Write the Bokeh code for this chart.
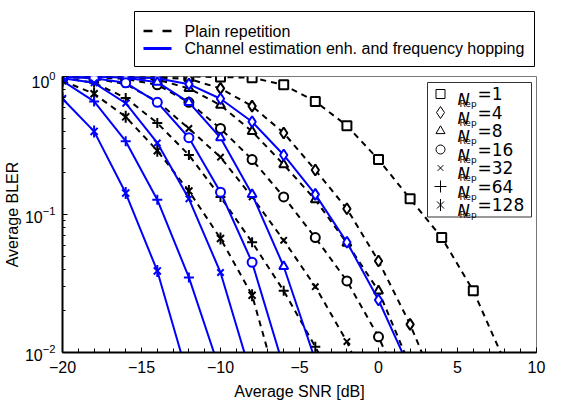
from bokeh.plotting import figure
from bokeh.layouts import column
from bokeh.models import (Range1d, FixedTicker, LinearScale, ColumnDataSource, LogTickFormatter)
from bokeh.core.properties import value
from bokeh.embed import file_html
from bokeh.resources import INLINE
import math

# ---------------- data ----------------
snr = [-20, -18, -16, -14, -12, -10, -8, -6, -4, -2, 0, 2, 4, 6, 8]

# Plain repetition (black dashed)
plain_n1 = [1.0, 1.0, 1.0, 1.0, 1.0, 0.99, 0.98, 0.87, 0.66, 0.44, 0.25, 0.13, 0.068, 0.028, 0.0085]
plain_n4 = [1.0, 1.0, 0.99, 0.98, 0.96, 0.82, 0.61, 0.39, 0.21, 0.11, 0.046, 0.016, 0.0045]
plain_n8 = [1.0, 1.0, 0.99, 0.95, 0.82, 0.62, 0.40, 0.23, 0.128, 0.062, 0.028, 0.008]
plain_n16 = [1.0, 0.99, 0.96, 0.87, 0.65, 0.42, 0.25, 0.134, 0.068, 0.033, 0.013, 0.004]
plain_n32 = [0.99, 0.97, 0.88, 0.66, 0.42, 0.26, 0.134, 0.065, 0.030, 0.012, 0.0035]
plain_n64 = [0.98, 0.90, 0.70, 0.46, 0.27, 0.134, 0.063, 0.028, 0.011, 0.004]
plain_n128 = [0.93, 0.75, 0.51, 0.29, 0.148, 0.067, 0.026, 0.004]

# Channel estimation enh. and frequency hopping (blue solid)
enh_n4 = [1.0, 1.0, 0.99, 0.97, 0.88, 0.69, 0.47, 0.27, 0.14, 0.063, 0.024, 0.0075]
enh_n8 = [1.0, 1.0, 0.98, 0.91, 0.65, 0.36, 0.14, 0.042, 0.0088]
enh_n16 = [0.99, 0.97, 0.90, 0.65, 0.36, 0.145, 0.045, 0.0078]
enh_n32 = [0.97, 0.90, 0.64, 0.33, 0.13, 0.038, 0.0065]
enh_n64 = [0.93, 0.66, 0.34, 0.128, 0.035, 0.0072]
enh_n128 = [0.69, 0.40, 0.143, 0.039, 0.0063]

rep_labels = ["1", "4", "8", "16", "32", "64", "128"]
markers = ["square", "diamond", "triangle", "circle", "x", "cross", "asterisk6"]
plain_series = [plain_n1, plain_n4, plain_n8, plain_n16, plain_n32, plain_n64, plain_n128]
enh_series = [None, enh_n4, enh_n8, enh_n16, enh_n32, enh_n64, enh_n128]
legend_texts = ["Plain repetition", "Channel estimation enh. and frequency hopping"]

x_ticks = [-20, -15, -10, -5, 0, 5, 10]
y_ticks = [0.01, 0.1, 1.0]

BLUE = "#0000FF"
FONT = "Liberation Sans"

# ---------------- layout constants ----------------
TOP_H = 71
FW, FH = 474, 276
LB, RB, TB, BB = 62, 19, 5, 46

# ---------------- top legend (its own strip, same side borders as the plot) ----------------
top = figure(frame_width=FW, frame_height=TOP_H, x_range=Range1d(0, FW), y_range=Range1d(TOP_H, 0),
             x_axis_type=None, y_axis_type=None, output_backend="svg",
             toolbar_location=None, title=None,
             min_border_left=LB, min_border_right=RB, min_border_top=0, min_border_bottom=0)
top.outline_line_color = None
top.background_fill_color = "white"
top.border_fill_color = "white"
box_l, box_r, box_t, box_b = 72, 472, 11, 66
row_y = [box_t + 19.5, box_t + 37]
top.quad(left=[box_l], right=[box_r], top=[box_t], bottom=[box_b],
         fill_color="white", line_color="black", line_width=1)
top.segment(x0=[box_l + 9], x1=[box_l + 37], y0=[row_y[0]], y1=[row_y[0]],
            line_color="black", line_width=2.5, line_dash="9 10")
top.segment(x0=[box_l + 9], x1=[box_l + 37], y0=[row_y[1]], y1=[row_y[1]],
            line_color=BLUE, line_width=3)
top.text(x=[box_l + 50, box_l + 50], y=row_y, text=legend_texts,
         text_font=value(FONT), text_font_size="16px", text_color="black",
         text_baseline="middle", text_align="left")

# ---------------- main plot ----------------
p = figure(frame_width=FW, frame_height=FH, y_axis_type="log",
           x_range=Range1d(-20, 10), y_range=Range1d(0.01, 1.0),
           output_backend="svg", toolbar_location=None, title=None,
           min_border_left=LB, min_border_right=RB,
           min_border_top=TB, min_border_bottom=BB)
p.extra_x_ranges = {"px": Range1d(0, FW)}
p.extra_y_ranges = {"px": Range1d(FH, 0)}
p.extra_x_scales = {"px": LinearScale()}
p.extra_y_scales = {"px": LinearScale()}

p.xgrid.visible = False
p.ygrid.visible = False
p.outline_line_color = "#777777"
p.outline_line_width = 1
p.background_fill_color = "white"
p.border_fill_color = "white"

marker_size = {"square": 9, "diamond": 11, "triangle": 9, "circle": 9,
               "x": 9, "cross": 10, "asterisk6": 10}


def draw_marker(fig, src, mk, size, color, width, **kw):
    """Draw a hollow marker; the 6-armed asterisk is an x plus a vertical bar."""
    if mk == "asterisk6":
        fig.scatter("x", "y", source=src, marker="x", size=size, line_color=color,
                    line_width=width, **kw)
        fig.scatter("x", "y", source=src, marker="dash", angle=math.pi / 2, size=size * 1.2,
                    line_color=color, line_width=width, **kw)
    else:
        fig.scatter("x", "y", source=src, marker=mk, size=size, line_color=color,
                    line_width=width, fill_color="white", **kw)


for vals, mk in zip(plain_series, markers):
    src = ColumnDataSource(dict(x=snr[:len(vals)], y=vals))
    p.line("x", "y", source=src, line_color="black", line_width=2, line_dash="6 5")
    draw_marker(p, src, mk, marker_size[mk], "black", 2)

for vals, mk in zip(enh_series, markers):
    if vals is None:
        continue
    src = ColumnDataSource(dict(x=snr[:len(vals)], y=vals))
    p.line("x", "y", source=src, line_color=BLUE, line_width=2)
    draw_marker(p, src, mk, marker_size[mk], BLUE, 2)

# axes
p.xaxis.ticker = FixedTicker(ticks=x_ticks, minor_ticks=list(range(-20, 11)))
p.yaxis.ticker = FixedTicker(ticks=y_ticks,
                             minor_ticks=[k * 0.01 for k in range(2, 10)] + [k * 0.1 for k in range(2, 10)])
p.yaxis.formatter = LogTickFormatter()
for ax in (p.xaxis, p.yaxis):
    ax.axis_line_width = 2
    ax.axis_line_color = "black"
    ax.major_tick_in = 5
    ax.major_tick_out = 0
    ax.minor_tick_in = 3
    ax.minor_tick_out = 0
    ax.major_tick_line_color = "black"
    ax.minor_tick_line_color = "black"
    ax.major_label_text_font = FONT
    ax.major_label_text_font_size = "16px"
    ax.major_label_text_color = "black"
    ax.axis_label_text_font = FONT
    ax.axis_label_text_font_size = "16px"
    ax.axis_label_text_font_style = "normal"
    ax.axis_label_text_color = "black"
p.xaxis.minor_tick_in = 4
p.xaxis.major_label_standoff = 8
p.xaxis.axis_label_standoff = 7
p.yaxis.major_label_standoff = 7
p.yaxis.axis_label_standoff = 1
p.xaxis.axis_label = "Average SNR [dB]"
p.yaxis.axis_label = "Average BLER"

# ---------------- inner legend (markers), drawn in frame pixels ----------------
L_right = FW - 5
L_left = L_right - 104
L_top = 6
row_h = 18.5
rows = [L_top + 11.5 + row_h * i for i in range(len(rep_labels))]
L_bottom = rows[-1] + 12
p.quad(left=[L_left], right=[L_right], top=[L_top], bottom=[L_bottom],
       fill_color="white", line_color="#333333", line_width=1,
       x_range_name="px", y_range_name="px")
leg_size = {"square": 9, "diamond": 12, "triangle": 9, "circle": 9,
            "x": 8, "cross": 12, "asterisk6": 10}
for yc, mk in zip(rows, markers):
    draw_marker(p, ColumnDataSource(dict(x=[L_left + 13], y=[yc])), mk, leg_size[mk], "black", 1,
                x_range_name="px", y_range_name="px")
p.text(x=[L_left + 30] * len(rows), y=[yc + 5.5 for yc in rows], text=["N"] * len(rows),
       text_font=value("DejaVu Sans"), text_font_style="italic", text_font_size="16.5px",
       text_color="black", text_baseline="alphabetic", text_align="left",
       x_range_name="px", y_range_name="px")
p.text(x=[L_left + 32] * len(rows), y=[yc + 10 for yc in rows], text=["Rep"] * len(rows),
       text_font=value("DejaVu Sans"), text_font_size="9px",
       text_color="black", text_baseline="alphabetic", text_align="left",
       x_range_name="px", y_range_name="px")
p.text(x=[L_left + 50] * len(rows), y=rows, text=["=" + t for t in rep_labels],
       text_font=value("DejaVu Sans"), text_font_size="17px",
       text_color="black", text_baseline="middle", text_align="left",
       x_range_name="px", y_range_name="px")

layout = column(top, p, spacing=0)
open("out.html", "w").write(file_html(layout, INLINE))
